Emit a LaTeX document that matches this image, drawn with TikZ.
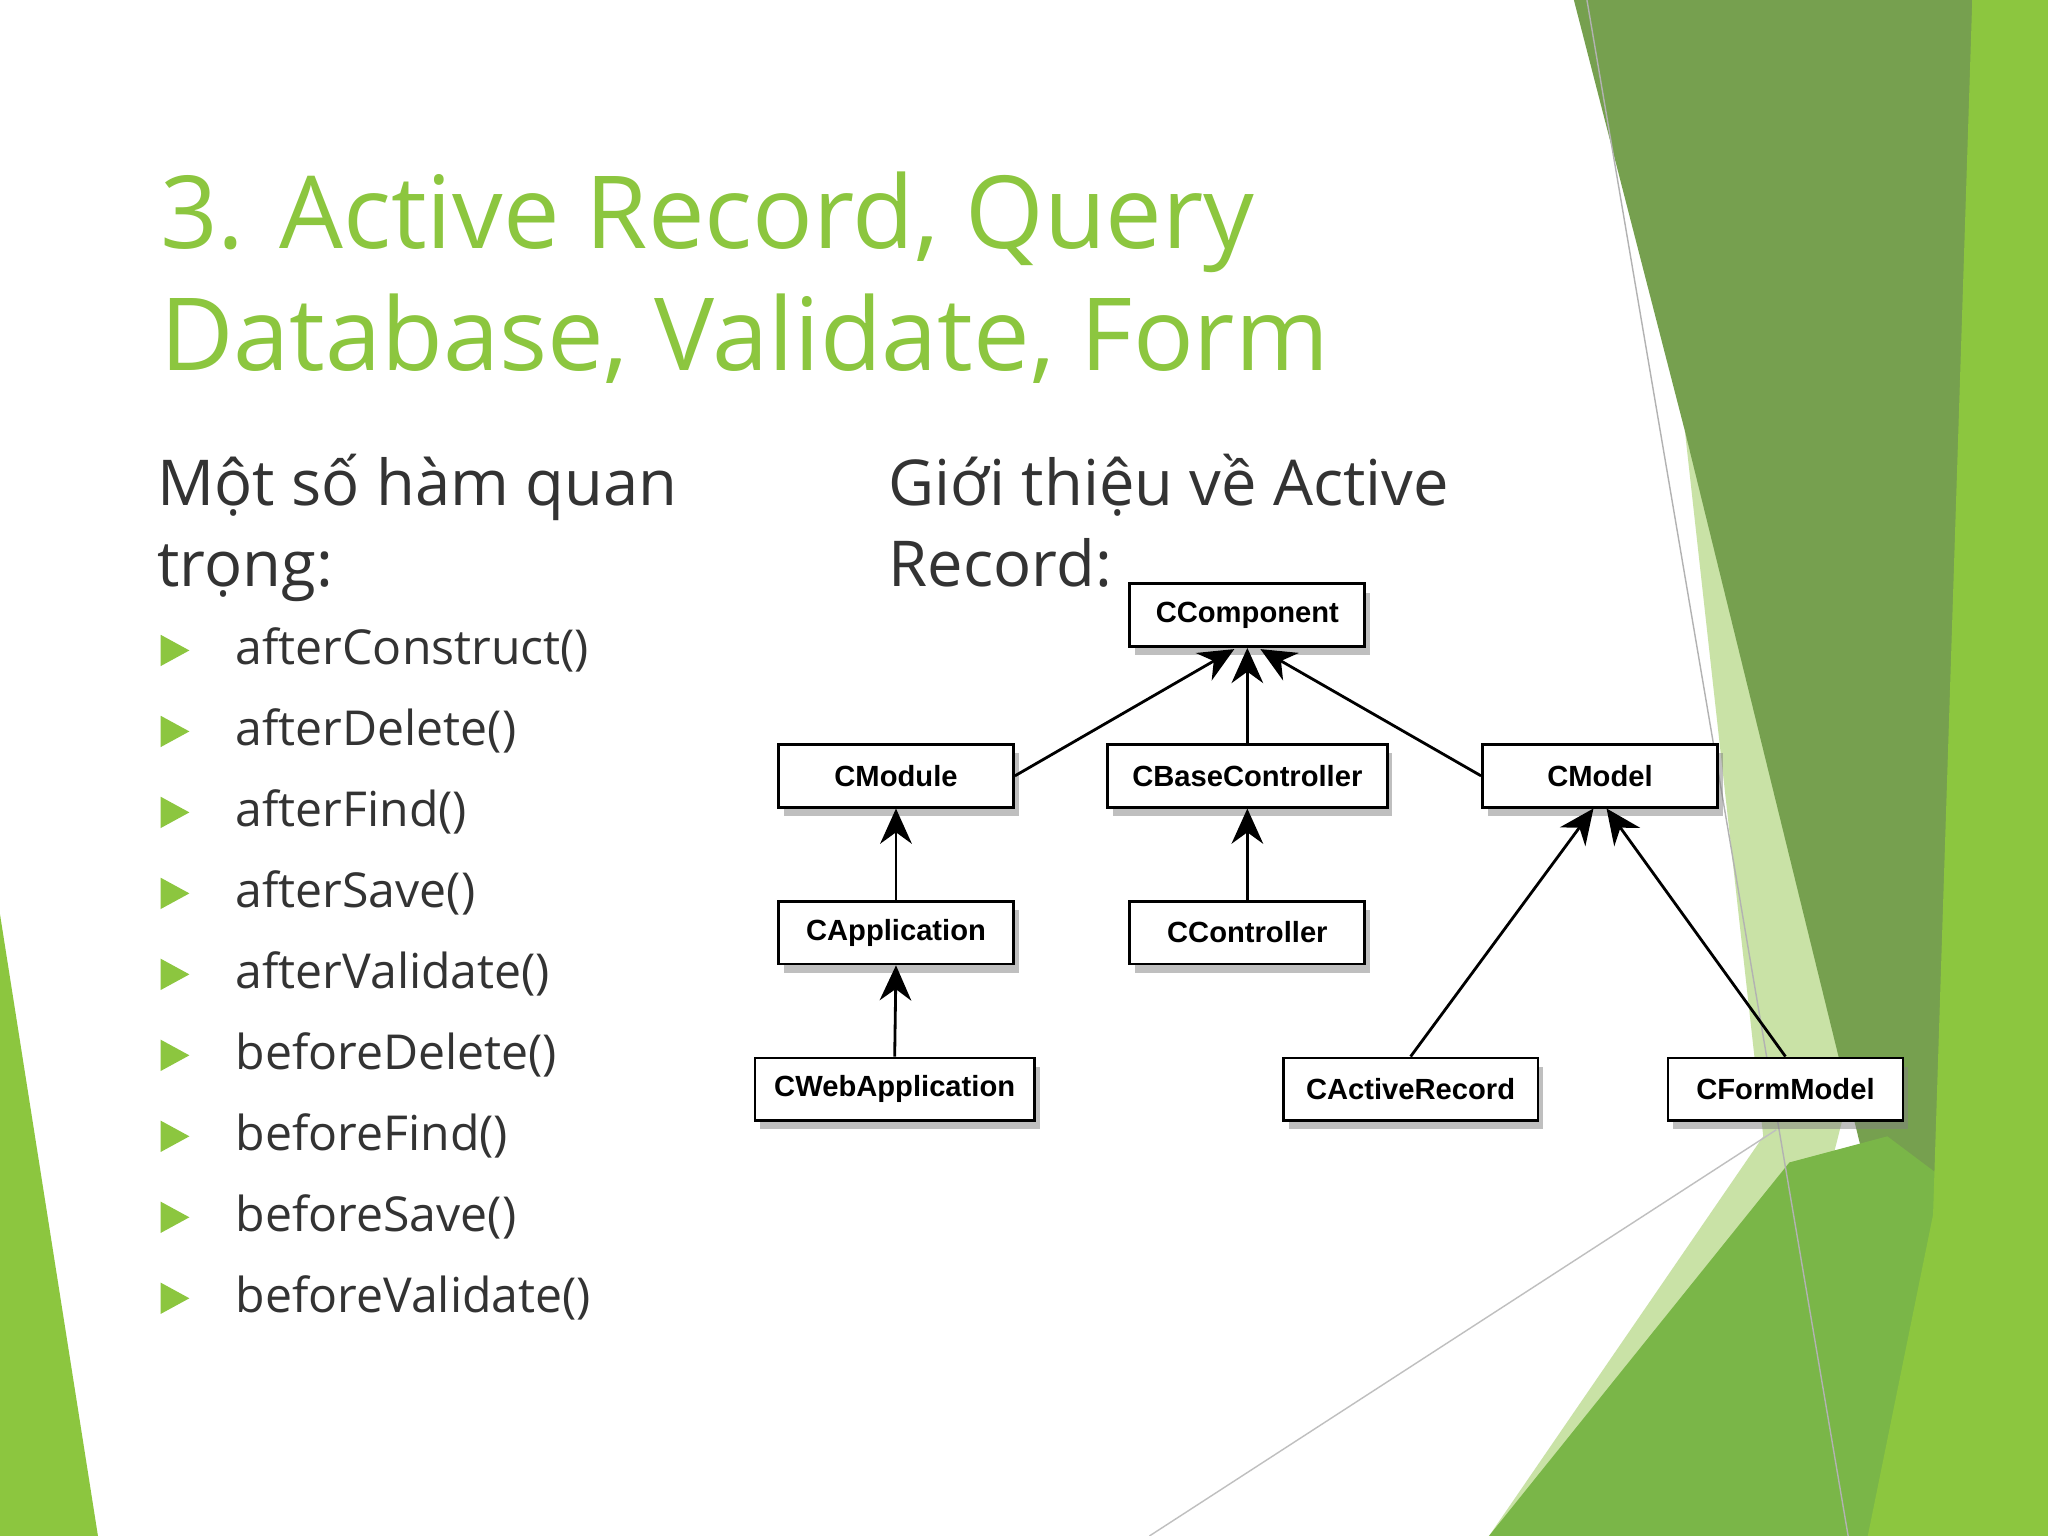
\documentclass[tikz,border=0pt]{standalone}
\usepackage{fontspec}
\setmainfont{Open Sans}
\newfontfamily\boxfont{Liberation Sans}
\usetikzlibrary{arrows.meta,shadows}
\definecolor{tg}{HTML}{8CC63F}
\definecolor{dg}{HTML}{76A04F}
\definecolor{mg}{HTML}{7AB648}
\definecolor{lg}{HTML}{C9E2A6}
\begin{document}
\begin{tikzpicture}[x=0.01306cm,y=-0.01306cm,
 title/.style={anchor=base west,text=tg,font=\fontsize{28.7}{34}\selectfont,inner sep=0},
 body/.style={anchor=base west,text=black!80,font=\fontsize{18}{22}\selectfont,inner sep=0},
 item/.style={anchor=base west,text=black!80,font=\fontsize{13.7}{17}\selectfont,inner sep=0},
 cls/.style={draw=black,thick,fill=white,minimum height=48*0.01306cm,inner sep=0,
   font=\boxfont\bfseries\fontsize{8.3}{10}\selectfont,drop shadow={shadow xshift=1.5pt,shadow yshift=-2.5pt,opacity=0.5}},
 inh/.style={thick,-{Stealth[length=10pt,width=9pt]}}]
\useasboundingbox (0,0) rectangle (1568,1176);
\fill[white] (0,0) rectangle (1568,1176);
% decoration
\fill[lg] (1290,330) -- (1420,820) -- (1330,1176) -- (1140,1176) -- (1350,870) -- cycle;
\fill[dg] (1205,0) -- (1540,0) -- (1480,930) -- (1430,900) -- (1290,330) -- cycle;
\fill[mg] (1140,1176) -- (1370,890) -- (1445,870) -- (1485,900) -- (1485,1176) -- cycle;
\fill[tg] (1510,0) -- (1568,0) -- (1568,1176) -- (1430,1176) -- (1480,930) -- cycle;
\draw[gray!60,thin] (1215,0) -- (1415,1176);
\draw[gray!50,thin] (880,1176) -- (1360,865);
\fill[tg] (0,700) -- (75,1176) -- (0,1176) -- cycle;
% title
\node[title] (t1) at (122,190) {3. Active Record, Query};
\node[title] (t2) at (122,284) {Database, Validate, Form};
\node[body] (b1) at (120,387) {Một số hàm quan};
\node[body] (b2) at (120,449) {trọng:};
\node[body] (b3) at (680,387) {Giới thiệu về Active};
\node[body] (b4) at (680,449) {Record:};
\foreach \t [count=\i from 0] in {afterConstruct(),afterDelete(),afterFind(),afterSave(),afterValidate(),beforeDelete(),beforeFind(),beforeSave(),beforeValidate()}{
  \fill[tg] (123,486+62*\i) -- (145,498+62*\i) -- (123,510+62*\i) -- cycle;
  \node[item] (it\i) at (180,509+62*\i) {\t};
}
% diagram
\node[cls,minimum width=180*0.01306cm] (comp) at (955,471) {CComponent};
\node[cls,minimum width=180*0.01306cm] (mod) at (686,594) {CModule};
\node[cls,minimum width=214*0.01306cm] (base) at (955,594) {CBaseController};
\node[cls,minimum width=180*0.01306cm] (model) at (1225,594) {CModel};
\node[cls,minimum width=180*0.01306cm] (app) at (686,714) {CApplication};
\node[cls,minimum width=180*0.01306cm] (ctrl) at (955,714) {CController};
\node[cls,minimum width=214*0.01306cm] (web) at (685,834) {CWebApplication};
\node[cls,minimum width=195*0.01306cm] (ar) at (1080,834) {CActiveRecord};
\node[cls,minimum width=180*0.01306cm] (fm) at (1367,834) {CFormModel};
\coordinate (c1) at (945,497); \coordinate (c3) at (965,497);
\coordinate (m1) at (1220,619); \coordinate (m2) at (1230,619);
\draw[inh] (mod.east) -- (c1);
\draw[inh] (base.north) -- (comp.south);
\draw[inh] (model.west) -- (c3);
\draw[inh] (app.north) -- (mod.south);
\draw[inh] (ctrl.north) -- (base.south);
\draw[inh] (web.north) -- (app.south);
\draw[inh] (ar.north) -- (m1);
\draw[inh] (fm.north) -- (m2);
\end{tikzpicture}
\end{document}
